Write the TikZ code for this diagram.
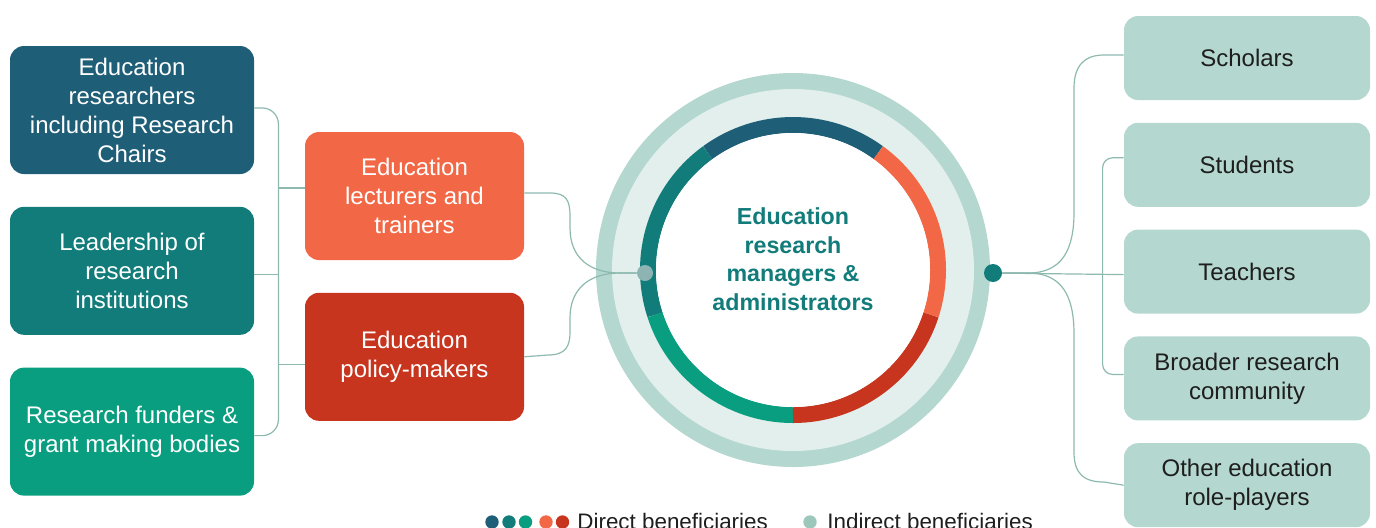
\documentclass[tikz,border=0pt]{standalone}
\usepackage{fontspec}
\setmainfont{Liberation Sans}
\usepackage{tikz}
\usetikzlibrary{positioning}
\definecolor{edblue}{HTML}{1F5E77}
\definecolor{edteal}{HTML}{127C7B}
\definecolor{edgreen}{HTML}{0A9E80}
\definecolor{edorange}{HTML}{F26846}
\definecolor{edred}{HTML}{C8351E}
\definecolor{mint}{HTML}{B4D7CF}
\definecolor{mintpale}{HTML}{E2EFEC}
\definecolor{keymint}{HTML}{9CC8BC}
\definecolor{linkgrey}{HTML}{8DB9AF}
\definecolor{hubgrey}{HTML}{8DB4B3}
\definecolor{ink}{HTML}{1E1E1E}

\begin{document}
\begin{tikzpicture}[x=0.5pt,y=-0.5pt,
  box/.style={rounded corners=7pt,align=center,inner sep=0pt,
              font=\fontsize{12}{14.5}\selectfont},
  leftbox/.style={box,text=white,minimum width=122pt,minimum height=64pt},
  midbox/.style={box,text=white,minimum width=109.5pt,minimum height=64pt},
  rightbox/.style={box,fill=mint,text=ink,minimum width=123pt,minimum height=42pt},
  link/.style={draw=linkgrey,line width=0.6pt},
  seg/.style={line width=8pt},
  dot/.style={circle,inner sep=0pt,minimum size=8pt},
  key/.style={circle,inner sep=0pt,minimum size=6.7pt},
  keytext/.style={font=\fontsize{11.2}{13}\selectfont,text=ink,inner sep=0pt,anchor=base west}]
\useasboundingbox (0,0) rectangle (1376,527);

% ring in the middle
\coordinate (c) at (793,270);
\fill[mint] (c) circle (98.5pt);
\fill[mintpale] (c) circle (90.5pt);
\foreach \col [count=\i, evaluate=\i as \a using 72*\i-18] in {edblue,edteal,edgreen,edred,edorange}
  \draw[seg,\col] (c) ++(\a:72.5pt) arc[start angle=\a, end angle=\a+72, radius=72.5pt];
\fill[white] (c) circle (68.5pt);
\node[font=\bfseries\fontsize{11.6}{14.3}\selectfont,text=edteal,align=center] (mgr) at (793,259)
  {Education\\research\\managers \&\\administrators};

% left columns
\node[leftbox,fill=edblue] (res) at (132,110) {Education\\researchers\\including Research\\Chairs};
\node[leftbox,fill=edteal,below=16pt of res] (lead) {Leadership of\\research\\institutions};
\node[leftbox,fill=edgreen,below=16pt of lead] (fund) {Research funders \&\\grant making bodies};
\node[midbox,fill=edorange] (lect) at (414.5,196) {Education\\lecturers and\\trainers};
\node[midbox,fill=edred,below=16pt of lect] (pol) {Education\\policy-makers};

% right column
\node[rightbox] (sch) at (1247,58) {Scholars};
\node[rightbox,below=11pt of sch] (stu) {Students};
\node[rightbox,below=11pt of stu] (tea) {Teachers};
\node[rightbox,below=11pt of tea] (brd) {Broader research\\community};
\node[rightbox,below=11pt of brd] (oth) {Other education\\role-players};

\node[dot,fill=hubgrey] (hubL) at (645,273) {};
\node[dot,fill=edteal,minimum size=9pt] (hubR) at (993,273) {};

% links on the left
\draw[link,rounded corners=8pt] ([yshift=1pt]res.east) -- ++(24,0) |- ([yshift=-2pt]fund.east);
\draw[link] ([yshift=-2pt]lead.east) -- ++(24,0);
\draw[link] ([yshift=4pt]lect.west) -- ++(-27,0);
\draw[link] ([yshift=-4pt]pol.west) -- ++(-27,0);
\draw[link] ([yshift=1.5pt]lect.east) -- (550,193) .. controls (566,193) and (570,200) .. (570,216)
  -- (570,228) .. controls (570,258) and (590,273) .. (620,273) -- (hubL);
\draw[link] (pol.east) -- (548,355) .. controls (566,355) and (570,346) .. (570,332)
  -- (570,318) .. controls (570,288) and (590,273) .. (620,273) -- (hubL);

% links on the right
\draw[link] (hubR) -- ([yshift=-1.5pt]tea.west);
\draw[link] (hubR.east) -- (1028,273) .. controls (1062,273) and (1074,250) .. (1074,212)
  -- (1074,88) .. controls (1074,66) and (1084,55) .. (1104,55) -- ([yshift=1.5pt]sch.west);
\draw[link] (hubR.east) -- (1028,273) .. controls (1062,273) and (1074,296) .. (1074,334)
  -- (1074,452) .. controls (1074,474) and (1084,482) .. (1104,482) -- (oth.west);
\draw[link,rounded corners=5pt] ([yshift=3.5pt]stu.west) -- ++(-21,0) |- ([yshift=2pt]brd.west);

% key
\foreach \col/\px [count=\i] in {edblue/492,edteal/509,edgreen/525.5,edorange/546,edred/562.5}
  \node[key,fill=\col] (key\i) at (\px,522) {};
\node[keytext] (direct) at (577,529) {Direct beneficiaries};
\node[key,fill=keymint] (key6) at (810,522) {};
\node[keytext] (indirect) at (827,529) {Indirect beneficiaries};
\end{tikzpicture}
\end{document}
